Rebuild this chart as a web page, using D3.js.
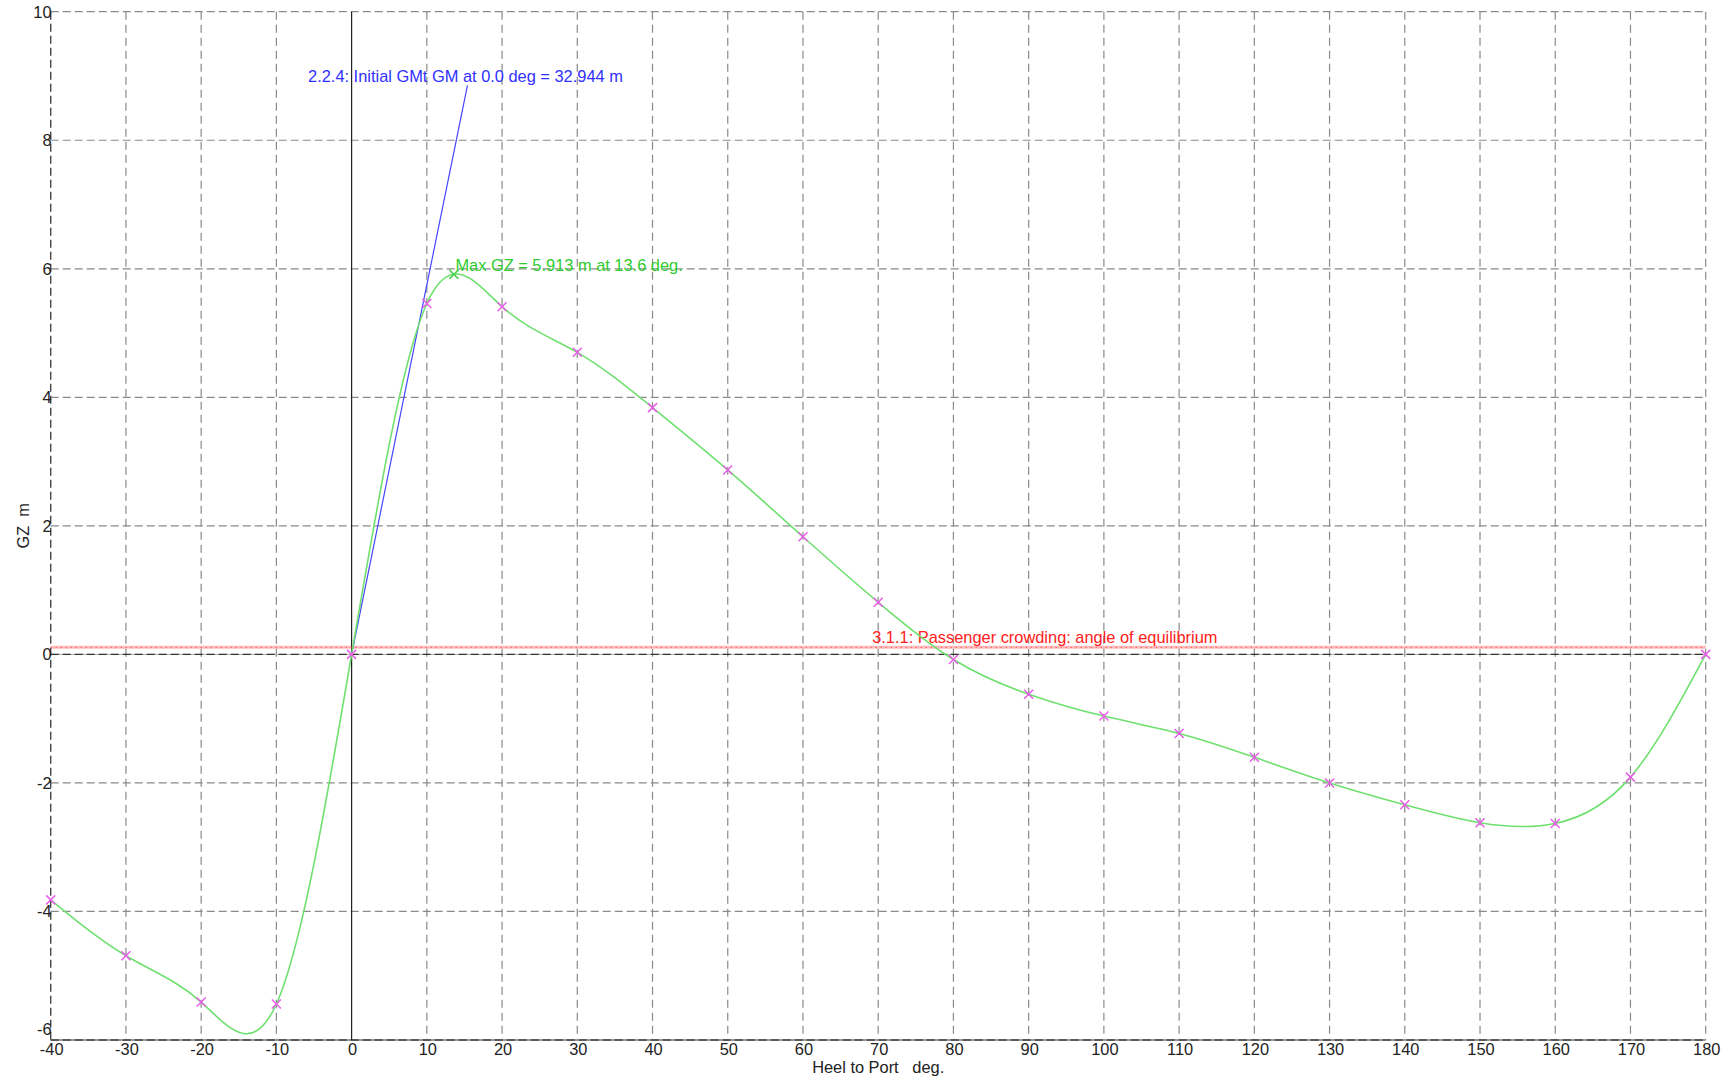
<!DOCTYPE html>
<html>
<head>
<meta charset="utf-8">
<script src="https://cdn.jsdelivr.net/npm/d3@7"></script>
<style>
  html, body { margin: 0; padding: 0; background: #fff; }
  svg { display: block; font-family: "Liberation Sans", Arial, sans-serif; }
</style>
</head>
<body>
<svg id="chart" width="1731" height="1081"></svg>
<script>
// ---- data ----
const heelAngles = [-40, -30, -20, -10, 0, 10, 20, 30, 40, 50, 60, 70, 80, 90, 100, 110, 120, 130, 140, 150, 160, 170, 180];
const gzValues   = [-3.82, -4.69, -5.41, -5.44, 0, 5.46, 5.41, 4.70, 3.84, 2.87, 1.83, 0.81, -0.08, -0.62, -0.96, -1.23, -1.60, -2.00, -2.34, -2.62, -2.63, -1.91, 0];
const maxGZ = { angle: 13.6, gz: 5.913 };
const initialGM = 32.944;          // m per radian
const gmLabelAngle = 15.4;          // deg, end of GM line at label
const crowdingLevel = 0.11;         // m
const crowdingLabelAngle = 69.2;    // deg
const xTicks = [-40, -30, -20, -10, 0, 10, 20, 30, 40, 50, 60, 70, 80, 90, 100, 110, 120, 130, 140, 150, 160, 170, 180];
const yTicks = [-6, -4, -2, 0, 2, 4, 6, 8, 10];
const labels = {
  x: "Heel to Port   deg.",
  y: "GZ  m",
  gm: "2.2.4: Initial GMt GM at 0.0 deg = 32.944 m",
  max: "Max GZ = 5.913 m at 13.6 deg.",
  crowd: "3.1.1: Passenger crowding: angle of equilibrium"
};

(function () {
// ---- layout ----
const svg = d3.select("#chart");
const FS = 16.4;
const pL = 50.7, pR = 1705.7, pT = 11.7, pB = 1040;
const x = d3.scaleLinear().domain([-40, 180]).range([pL, pR]);
const y = d3.scaleLinear().domain([-6, 10]).range([pB, pT]);

const gridColor = "#8a8a8a";
const g = svg.append("g");
g.selectAll(".vg").data(xTicks.filter(d => d !== 0 && d !== -40)).enter().append("line")
  .attr("x1", d => x(d)).attr("x2", d => x(d)).attr("y1", pT).attr("y2", pB)
  .attr("stroke", gridColor).attr("stroke-width", 1.2).attr("stroke-dasharray", "8,5");
g.selectAll(".hg").data(yTicks.filter(d => d !== 0 && d !== -6)).enter().append("line")
  .attr("x1", pL).attr("x2", pR).attr("y1", d => y(d)).attr("y2", d => y(d))
  .attr("stroke", gridColor).attr("stroke-width", 1.2).attr("stroke-dasharray", "8,4");

// borders (left / bottom dark dashed)
g.append("line").attr("x1", pL).attr("x2", pL).attr("y1", pT).attr("y2", pB)
  .attr("stroke", "#444").attr("stroke-width", 1.4).attr("stroke-dasharray", "8,4");
g.append("line").attr("x1", pL).attr("x2", pR).attr("y1", pB).attr("y2", pB)
  .attr("stroke", "#999").attr("stroke-width", 2.2);
g.append("line").attr("x1", pL).attr("x2", pR).attr("y1", pB).attr("y2", pB)
  .attr("stroke", "#444").attr("stroke-width", 1.6).attr("stroke-dasharray", "8,4");

// zero axes
g.append("line").attr("x1", pL).attr("x2", pR).attr("y1", y(0)).attr("y2", y(0))
  .attr("stroke", "#aaa").attr("stroke-width", 1);
g.append("line").attr("x1", pL).attr("x2", pR).attr("y1", y(0)).attr("y2", y(0))
  .attr("stroke", "#333").attr("stroke-width", 1.3).attr("stroke-dasharray", "8,4");
g.append("line").attr("x1", x(0)).attr("x2", x(0)).attr("y1", pT).attr("y2", pB)
  .attr("stroke", "#222").attr("stroke-width", 1.2);

// tick labels
svg.append("g").selectAll("text").data(xTicks).enter().append("text")
  .attr("x", d => x(d) + 1).attr("y", pB + 14.5)
  .attr("text-anchor", "middle").attr("font-size", FS).attr("fill", "#222")
  .text(d => d);
svg.append("g").selectAll("text").data(yTicks).enter().append("text")
  .attr("x", pL + 0.8).attr("y", d => y(d) + (d === -6 ? -5 : 6))
  .attr("text-anchor", "end").attr("font-size", FS).attr("fill", "#222")
  .text(d => d);

// axis titles
svg.append("text").attr("x", (pL + pR) / 2).attr("y", 1073)
  .attr("text-anchor", "middle").attr("font-size", FS).attr("fill", "#222")
  .style("white-space", "pre").text(labels.x);
svg.append("text").attr("transform", `translate(29,${(pT + pB) / 2}) rotate(-90)`)
  .attr("text-anchor", "middle").attr("font-size", FS).attr("fill", "#222")
  .style("white-space", "pre").text(labels.y);

// crowding criterion line
svg.append("line").attr("x1", pL).attr("x2", pR).attr("y1", y(crowdingLevel)).attr("y2", y(crowdingLevel))
  .attr("stroke", "rgba(255,60,60,0.35)").attr("stroke-width", 3);
svg.append("line").attr("x1", pL).attr("x2", pR).attr("y1", y(crowdingLevel)).attr("y2", y(crowdingLevel))
  .attr("stroke", "#ff3030").attr("stroke-width", 1).attr("stroke-dasharray", "1,4");
svg.append("text").attr("x", x(crowdingLabelAngle)).attr("y", y(crowdingLevel) - 4.6)
  .attr("font-size", FS).attr("fill", "#ff2020").text(labels.crowd);

// GM line
const gmEnd = initialGM * gmLabelAngle / (180 / Math.PI);
svg.append("line").attr("x1", x(0)).attr("y1", y(0)).attr("x2", x(gmLabelAngle)).attr("y2", y(gmEnd))
  .attr("stroke", "#4545ff").attr("stroke-width", 1.2);
svg.append("text").attr("x", x(gmLabelAngle) - 2).attr("y", y(gmEnd) - 3.5)
  .attr("text-anchor", "middle").attr("font-size", FS).attr("fill", "#3030ff").text(labels.gm);

// GZ curve (spline through the tabulated points)
const curvePts = heelAngles.map((a, i) => [a, gzValues[i]]);
const line = d3.line().x(d => x(d[0])).y(d => y(d[1])).curve(d3.curveNatural);
svg.append("path").attr("d", line(curvePts)).attr("fill", "none")
  .attr("stroke", "#6fe06f").attr("stroke-width", 1.6);

// markers
const cross = (sel, color) => {
  const s = 4.5;
  sel.append("line").attr("x1", -s).attr("y1", -s).attr("x2", s).attr("y2", s).attr("stroke", color).attr("stroke-width", 1.5);
  sel.append("line").attr("x1", -s).attr("y1", s).attr("x2", s).attr("y2", -s).attr("stroke", color).attr("stroke-width", 1.5);
};
const mk = svg.append("g").selectAll("g").data(curvePts).enter().append("g")
  .attr("transform", d => `translate(${x(d[0])},${y(d[1])})`);
cross(mk, "#e85ee8");
const mx = svg.append("g").attr("transform", `translate(${x(maxGZ.angle)},${y(maxGZ.gz)})`);
cross(mx, "#4fd04f");

svg.append("text").attr("x", x(maxGZ.angle) + 1.5).attr("y", y(maxGZ.gz) - 3)
  .attr("font-size", FS).attr("fill", "#2ecc2e").text(labels.max);
})();
</script>
</body>
</html>
